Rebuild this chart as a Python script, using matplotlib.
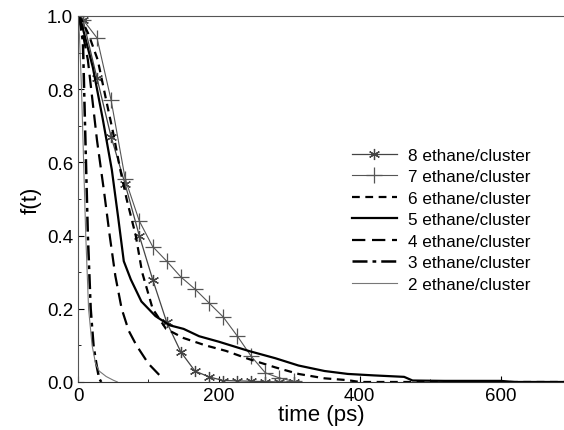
import matplotlib
matplotlib.use("Agg")
import matplotlib.pyplot as plt

plt.rcParams["font.family"] = ["Liberation Sans", "DejaVu Sans"]

# 8 and 7 ethane/cluster share the marker time grid (ps)
t_marked = [0, 7, 27, 47, 67, 87, 106, 126, 146, 166, 186, 206, 226, 246, 266, 286, 306]
f_8 = [1.0, 0.99, 0.83, 0.67, 0.54, 0.40, 0.28, 0.163, 0.082, 0.03, 0.014, 0.004, 0.003, 0.002, 0.001, 0.0, 0.0]
f_7 = [1.0, 0.99, 0.94, 0.77, 0.555, 0.44, 0.37, 0.33, 0.287, 0.254, 0.216, 0.178, 0.126, 0.07, 0.025, 0.011, 0.002]

t_6 = [0, 5, 15, 28, 40, 50, 60, 69, 82, 91, 106, 125, 150, 181, 210, 242, 280, 313, 350, 383, 400, 700]
f_6 = [1.0, 0.99, 0.95, 0.88, 0.77, 0.68, 0.58, 0.5, 0.4, 0.3, 0.2, 0.145, 0.12, 0.1, 0.085, 0.063, 0.04, 0.022, 0.01, 0.005, 0.0, 0.0]

t_5 = [0, 5, 21, 35, 48, 57, 65, 75, 90, 110, 130, 150, 172, 200, 242, 280, 313, 350, 383, 420, 463, 475, 520, 600, 620, 700]
f_5 = [1.0, 0.98, 0.86, 0.72, 0.58, 0.45, 0.33, 0.28, 0.22, 0.18, 0.155, 0.145, 0.125, 0.11, 0.085, 0.065, 0.045, 0.03, 0.022, 0.018, 0.014, 0.004, 0.003, 0.003, 0.0, 0.0]

t_4 = [0, 5, 14, 27, 37, 45, 53, 62, 72, 83, 100, 120]
f_4 = [1.0, 0.97, 0.88, 0.66, 0.52, 0.4, 0.29, 0.2, 0.14, 0.1, 0.05, 0.01]

t_3 = [0, 3, 7, 10, 14, 18, 22, 26, 30, 33]
f_3 = [1.0, 0.98, 0.93, 0.7, 0.4, 0.2, 0.1, 0.05, 0.01, 0.0]

t_2 = [0, 2, 5, 8, 11, 15, 20, 25, 30, 40, 50, 56]
f_2 = [1.0, 0.95, 0.8, 0.6, 0.4, 0.2, 0.1, 0.05, 0.03, 0.015, 0.005, 0.0]

labels = [f"{n} ethane/cluster" for n in [8, 7, 6, 5, 4, 3, 2]]

fig = plt.figure(figsize=(5.64, 4.31), dpi=100)
ax = fig.add_axes([0.1383, 0.1114, 0.8617, 0.8492])

ax.plot(t_marked, f_8, color="#444444", lw=0.9, marker=(6, 2, 0), markersize=8, mew=0.9, label=labels[0])
ax.plot(t_marked, f_7, color="#555555", lw=0.8, marker="+", markersize=11, mew=0.9, label=labels[1])
ax.plot(t_6, f_6, color="black", lw=1.6, dashes=(3.5, 2.5), label=labels[2])
ax.plot(t_5, f_5, color="black", lw=1.6, label=labels[3])
ax.plot(t_4, f_4, color="black", lw=1.6, dashes=(6, 3), label=labels[4])
ax.plot(t_3, f_3, color="black", lw=1.8, dashes=(6, 2, 1.5, 2), label=labels[5])
ax.plot(t_2, f_2, color="#777777", lw=0.8, label=labels[6])

ax.set_xlim(0, 690)
ax.set_ylim(0, 1.0)
ax.set_xticks([0, 200, 400, 600])
ax.set_yticks([0.0, 0.2, 0.4, 0.6, 0.8, 1.0])
ax.set_yticklabels(["0.0", "0.2", "0.4", "0.6", "0.8", "1.0"])
ax.set_xticks([100, 300, 500], minor=True)
ax.set_yticks([0.1, 0.3, 0.5, 0.7, 0.9], minor=True)
ax.tick_params(direction="in", labelsize=13.5, length=4, width=0.8)
ax.tick_params(which="minor", direction="in", length=2.5, width=0.6)
ax.spines["right"].set_visible(False)
ax.spines["top"].set_color("#555555")
ax.spines["left"].set_color("#555555")
ax.spines["bottom"].set_color("#333333")

ax.set_xlabel("time (ps)", fontsize=16, labelpad=0)
ax.set_ylabel("f(t)", fontsize=16, labelpad=4)

ax.legend(loc="upper left", bbox_to_anchor=(0.564, 0.64), frameon=False, fontsize=12.3,
          handlelength=2.6, handletextpad=0.7, labelspacing=0.38, borderaxespad=0, borderpad=0)

fig.savefig("out.png", dpi=100)
